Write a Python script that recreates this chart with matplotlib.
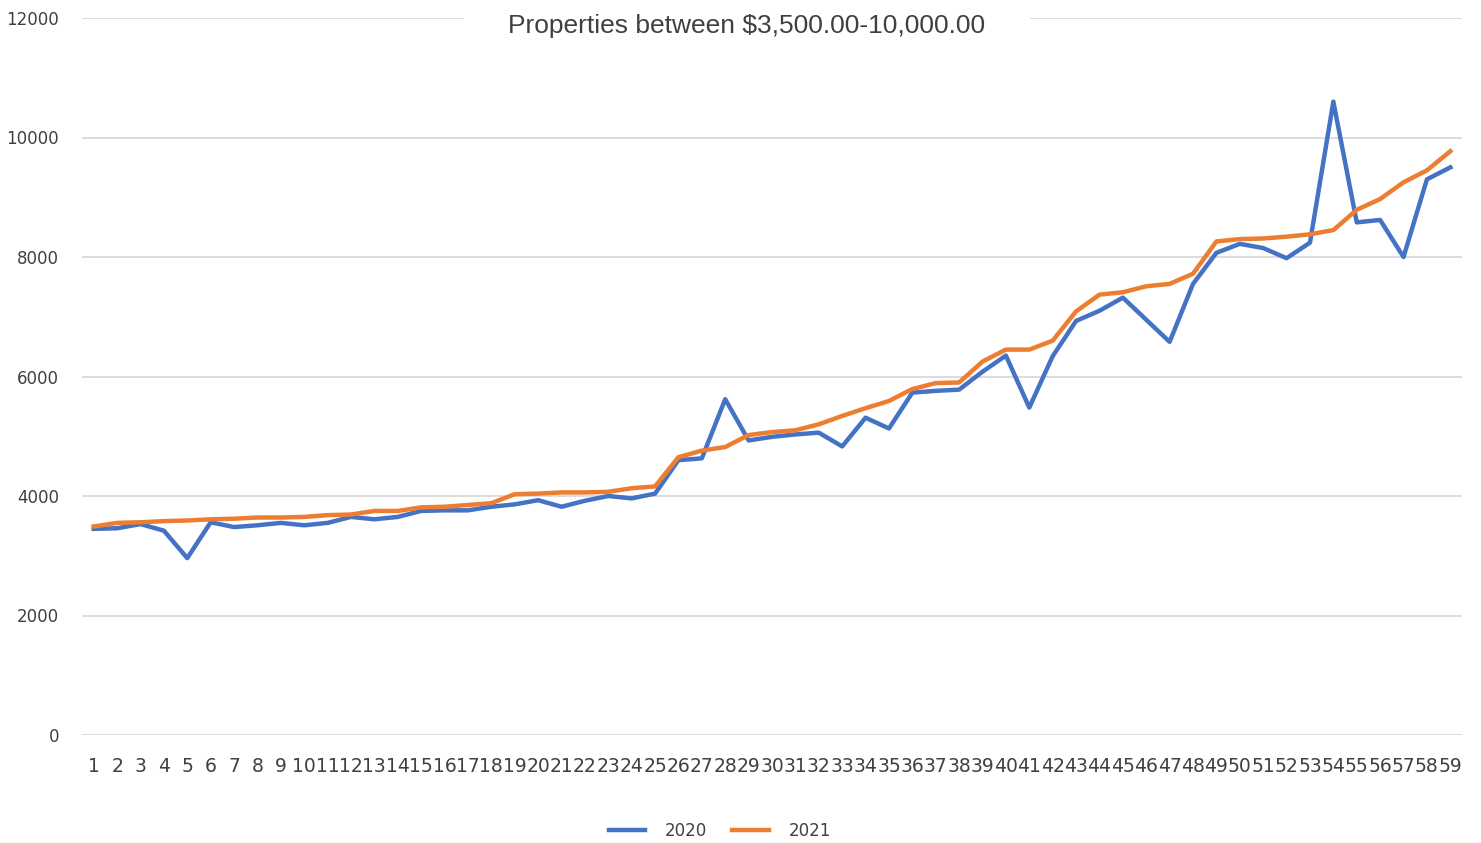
import matplotlib
matplotlib.use("Agg")
import matplotlib.pyplot as plt

categories = list(range(1, 60))
values_2020 = [3450, 3460, 3530, 3420, 2960, 3560, 3480, 3510, 3550, 3510,
               3550, 3650, 3610, 3650, 3750, 3760, 3760, 3820, 3860, 3930,
               3820, 3920, 4000, 3960, 4040, 4600, 4630, 5620, 4930, 4990,
               5030, 5060, 4830, 5310, 5130, 5730, 5760, 5780, 6080, 6350,
               5480, 6340, 6930, 7100, 7320, 6950, 6580, 7550, 8070, 8220,
               8150, 7980, 8240, 10600, 8580, 8620, 8000, 9300, 9500]
values_2021 = [3490, 3550, 3560, 3580, 3590, 3610, 3620, 3640, 3640, 3650,
               3680, 3690, 3750, 3750, 3810, 3820, 3850, 3880, 4030, 4040,
               4060, 4060, 4070, 4130, 4160, 4650, 4760, 4820, 5020, 5070,
               5100, 5200, 5340, 5470, 5590, 5790, 5890, 5900, 6250, 6450,
               6450, 6600, 7090, 7370, 7410, 7510, 7550, 7720, 8260, 8300,
               8310, 8340, 8380, 8450, 8790, 8970, 9250, 9450, 9770]
y_ticks = [0, 2000, 4000, 6000, 8000, 10000, 12000]
title = r"Properties between \$3,500.00-10,000.00"

fig = plt.figure(figsize=(14.81, 8.43), dpi=100)
ax = fig.add_axes([82/1481, 108/843, 1380/1481, 717/843])

ax.plot(categories, values_2020, color="#4472C4", lw=3.2, label="2020", solid_joinstyle="round")
ax.plot(categories, values_2021, color="#ED7D31", lw=3.2, label="2021", solid_joinstyle="round")

ax.set_xlim(0.5, 59.5)
ax.set_ylim(0, 12000)
ax.set_yticks(y_ticks)
ax.set_xticks(categories)
ax.set_xticklabels([str(c) for c in categories])
ax.grid(axis="y", color="#D9D9D9", lw=1.3)
ax.set_axisbelow(True)
for s in ax.spines.values():
    s.set_visible(False)
ax.tick_params(axis="both", length=0, colors="#404040")
ax.tick_params(axis="y", pad=16.5, labelsize=12)
ax.tick_params(axis="x", pad=16, labelsize=13.5)

fig.text(747/1481, 1 - 26/843, title, ha="center", va="center", fontsize=19,
         family="Liberation Sans", color="#404040",
         bbox=dict(facecolor="white", edgecolor="none", pad=32))

leg = fig.legend(loc="center", bbox_to_anchor=(720/1481, 1 - 831/843), ncol=2,
                 frameon=False, fontsize=12, handlelength=2.2, columnspacing=1.5,
                 handletextpad=1.2)
for t in leg.get_texts():
    t.set_color("#404040")

fig.savefig("out.png", dpi=100)
